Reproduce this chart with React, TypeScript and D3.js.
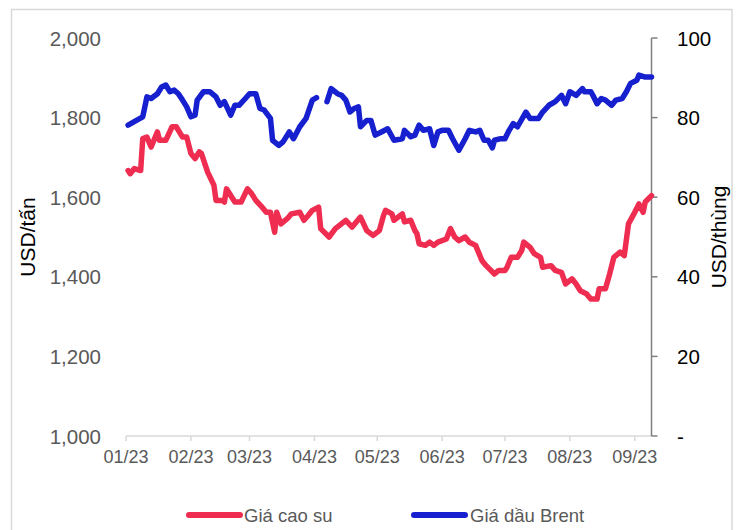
import React from "react";
import * as d3 from "d3";

// Month ticks on the time axis
const monthTicks = [
  "2023-01-01", "2023-02-01", "2023-03-01", "2023-04-01", "2023-05-01",
  "2023-06-01", "2023-07-01", "2023-08-01", "2023-09-01",
];

// Left axis (USD/tấn) and right axis (USD/thùng) ticks
const leftTicks = [1000, 1200, 1400, 1600, 1800, 2000];
const rightTicks = [0, 20, 40, 60, 80, 100];

// Rubber price, USD/tấn
const rubberDates = [
  "01-02", "01-03", "01-05", "01-08", "01-09", "01-11", "01-13", "01-16", "01-17", "01-20",
  "01-23", "01-25", "01-28", "01-30", "02-01", "02-03", "02-05", "02-06", "02-09", "02-12",
  "02-13", "02-16", "02-17", "02-18", "02-21", "02-22", "02-25", "02-28", "03-02", "03-04",
  "03-07", "03-09", "03-11", "03-13", "03-14", "03-16", "03-19", "03-21", "03-25", "03-27",
  "03-29", "03-31", "04-03", "04-04", "04-08", "04-11", "04-16", "04-19", "04-23", "04-26",
  "04-29", "05-02", "05-04", "05-05", "05-08", "05-09", "05-13", "05-14", "05-17", "05-19",
  "05-20", "05-21", "05-24", "05-26", "05-28", "05-30", "06-03", "06-05", "06-07", "06-09",
  "06-12", "06-14", "06-17", "06-20", "06-22", "06-26", "06-28", "07-01", "07-02", "07-04",
  "07-07", "07-09", "07-10", "07-13", "07-15", "07-18", "07-19", "07-23", "07-25", "07-28",
  "07-30", "08-02", "08-04", "08-06", "08-09", "08-11", "08-14", "08-15", "08-18", "08-20",
  "08-22", "08-25", "08-27", "08-29", "09-01", "09-03", "09-05", "09-06", "09-09",
];
const rubberPrices = [
  1667, 1659, 1672, 1667, 1747, 1751, 1726, 1764, 1743, 1743,
  1777, 1777, 1751, 1751, 1710, 1697, 1714, 1710, 1663, 1630,
  1592, 1592, 1588, 1621, 1596, 1588, 1588, 1621, 1609, 1592,
  1575, 1562, 1562, 1512, 1562, 1533, 1546, 1558, 1562, 1542,
  1554, 1567, 1575, 1521, 1500, 1521, 1542, 1525, 1550, 1516,
  1504, 1516, 1554, 1567, 1558, 1542, 1558, 1538, 1542, 1516,
  1508, 1483, 1479, 1487, 1479, 1487, 1495, 1521, 1500, 1491,
  1500, 1487, 1479, 1441, 1428, 1407, 1416, 1416, 1424, 1449,
  1449, 1466, 1487, 1474, 1458, 1449, 1424, 1428, 1416, 1411,
  1382, 1395, 1382, 1365, 1357, 1344, 1344, 1370, 1370, 1407,
  1449, 1462, 1453, 1533, 1562, 1583, 1562, 1588, 1604,
];

// Brent crude price, USD/thùng (null = no quote)
const brentDates = [
  "01-02", "01-06", "01-09", "01-11", "01-13", "01-16", "01-18", "01-20", "01-22", "01-24",
  "01-26", "01-28", "01-30", "02-01", "02-03", "02-04", "02-07", "02-10", "02-13", "02-15",
  "02-17", "02-20", "02-22", "02-24", "02-27", "03-01", "03-04", "03-06", "03-08", "03-11",
  "03-12", "03-15", "03-17", "03-20", "03-22", "03-25", "03-28", "03-31", "04-02", "04-05",
  "04-07", "04-09", "04-12", "04-14", "04-16", "04-18", "04-20", "04-22", "04-23", "04-26",
  "04-28", "04-30", "05-03", "05-06", "05-09", "05-13", "05-14", "05-17", "05-19", "05-21",
  "05-23", "05-26", "05-28", "05-30", "06-01", "06-04", "06-06", "06-09", "06-12", "06-14",
  "06-17", "06-19", "06-21", "06-23", "06-25", "06-26", "06-29", "07-01", "07-03", "07-05",
  "07-07", "07-11", "07-13", "07-17", "07-19", "07-22", "07-25", "07-28", "07-30", "08-01",
  "08-04", "08-07", "08-08", "08-11", "08-12", "08-14", "08-16", "08-18", "08-21", "08-23",
  "08-26", "08-28", "08-30", "09-02", "09-03", "09-06", "09-09",
];
const brentPrices: (number | null)[] = [
  78.1, 79.3, 80.2, 85.2, 84.8, 86.0, 87.7, 88.2, 86.5, 86.9,
  86.0, 84.4, 82.7, 80.2, 80.6, 84.4, 86.5, 86.5, 85.2, 83.1,
  84.0, 80.6, 83.1, 83.1, 84.8, 86.0, 86.0, 82.3, 81.9, 79.8,
  74.3, 73.0, 73.9, 76.4, 74.7, 77.7, 79.8, 84.4, 85.0, null,
  84.0, 87.3, 86.0, 85.6, 84.4, 81.4, 82.3, 82.7, 77.7, 79.3,
  79.3, 75.6, 76.4, 77.2, 74.3, 74.7, 76.8, 75.2, 75.6, 78.1,
  76.8, 77.2, 73.0, 76.4, 76.8, 76.8, 74.7, 71.8, 74.7, 76.8,
  76.4, 76.8, 74.3, 74.3, 72.4, 74.3, 74.7, 74.7, 76.8, 78.5,
  77.7, 81.4, 79.8, 79.8, 81.4, 83.1, 84.0, 85.6, 83.5, 86.5,
  85.6, 87.3, 86.5, 86.5, 85.6, 83.5, 84.8, 84.4, 83.1, 84.4,
  84.8, 86.5, 88.6, 89.4, 90.7, 90.2, 90.2,
];

const RED = "#ee2d50";
const BLUE = "#1720cf";
const FONT = "'Liberation Sans', Arial, Helvetica, sans-serif";

type Pt = { date: Date; v: number | null };

const parse = (md: string) => new Date(`2023-${md}T00:00:00`);

export default function App() {
  const width = 742;
  const height = 530;
  const left = 126;
  const right = 651.5;
  const top = 38;
  const bottom = 436;

  const x = d3
    .scaleTime()
    .domain([parse("01-01"), parse("09-09")])
    .range([left, right]);
  const yLeft = d3.scaleLinear().domain([1000, 2000]).range([bottom, top]);
  const yRight = d3.scaleLinear().domain([0, 100]).range([bottom, top]);

  const rubber: Pt[] = rubberDates.map((d, i) => ({ date: parse(d), v: rubberPrices[i] }));
  const brent: Pt[] = brentDates.map((d, i) => ({ date: parse(d), v: brentPrices[i] }));

  const rubberLine = d3
    .line<Pt>()
    .defined((d) => d.v != null)
    .x((d) => x(d.date))
    .y((d) => yLeft(d.v as number));
  const brentLine = d3
    .line<Pt>()
    .defined((d) => d.v != null)
    .x((d) => x(d.date))
    .y((d) => yRight(d.v as number));

  const ticks = monthTicks.map((s) => new Date(`${s}T00:00:00`));
  const fmt = d3.timeFormat("%m/%y");

  return (
    <svg
      width={width}
      height={height}
      style={{ position: "fixed", left: 0, top: 0, background: "#fff" }}
      fontFamily={FONT}
    >
      <rect x={0} y={0} width={width} height={height} fill="#fff" />
      <rect x={11.5} y={9.5} width={720.5} height={540} fill="none" stroke="#d9d9d9" strokeWidth={1.5} />

      {/* x axis */}
      <line x1={left} x2={right} y1={bottom} y2={bottom} stroke="#d9d9d9" strokeWidth={1.5} />
      {ticks.map((t, i) => (
        <g key={i}>
          <line x1={x(t)} x2={x(t)} y1={bottom} y2={bottom + 5} stroke="#d9d9d9" strokeWidth={1.5} />
          <text
            x={x(t)}
            y={457}
            textAnchor="middle"
            dominantBaseline="central"
            fontSize={18}
            fill="#595959"
          >
            {fmt(t)}
          </text>
        </g>
      ))}

      {/* left axis labels */}
      {leftTicks.map((v) => (
        <text
          key={v}
          x={101}
          y={yLeft(v)}
          textAnchor="end"
          dominantBaseline="central"
          fontSize={20.5}
          fill="#595959"
        >
          {d3.format(",")(v)}
        </text>
      ))}
      <text
        transform={`translate(27,237) rotate(-90)`}
        textAnchor="middle"
        dominantBaseline="central"
        fontSize={21}
        fill="#000"
      >
        USD/tấn
      </text>

      {/* right axis */}
      <line x1={right} x2={right} y1={top} y2={bottom} stroke="#808080" strokeWidth={1.5} />
      {rightTicks.map((v) => (
        <g key={v}>
          <line x1={right} x2={right + 6} y1={yRight(v)} y2={yRight(v)} stroke="#808080" strokeWidth={1.5} />
          <text
            x={677}
            y={yRight(v)}
            textAnchor="start"
            dominantBaseline="central"
            fontSize={20.5}
            fill="#000"
          >
            {v === 0 ? "-" : v}
          </text>
        </g>
      ))}
      <text
        transform={`translate(718,237) rotate(-90)`}
        textAnchor="middle"
        dominantBaseline="central"
        fontSize={21}
        fill="#000"
      >
        USD/thùng
      </text>

      {/* series */}
      <path
        d={rubberLine(rubber) ?? ""}
        fill="none"
        stroke={RED}
        strokeWidth={5.5}
        strokeLinejoin="round"
        strokeLinecap="round"
      />
      <path
        d={brentLine(brent) ?? ""}
        fill="none"
        stroke={BLUE}
        strokeWidth={5.5}
        strokeLinejoin="round"
        strokeLinecap="round"
      />

      {/* legend */}
      <line x1={189} x2={240} y1={515} y2={515} stroke={RED} strokeWidth={6} strokeLinecap="round" />
      <text x={244} y={515} dominantBaseline="central" fontSize={18.5} fill="#595959">
        Giá cao su
      </text>
      <line x1={414} x2={465} y1={515} y2={515} stroke={BLUE} strokeWidth={6} strokeLinecap="round" />
      <text x={470} y={515} dominantBaseline="central" fontSize={18.5} fill="#595959">
        Giá dầu Brent
      </text>
    </svg>
  );
}
